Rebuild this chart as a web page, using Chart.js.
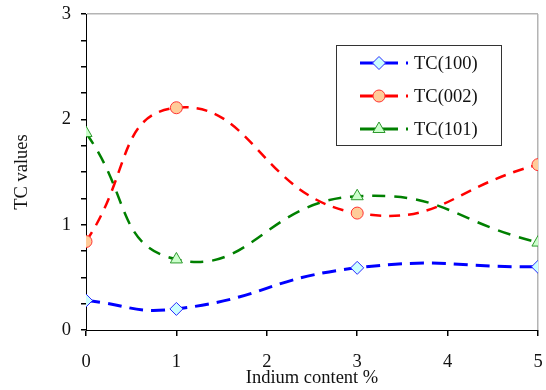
<!DOCTYPE html>
<html>
<head>
<meta charset="utf-8">
<script src="https://cdn.jsdelivr.net/npm/chart.js@4"></script>
<style>
  html, body { margin: 0; padding: 0; background: #fff; }
  canvas { display: block; }
</style>
</head>
<body>
<canvas id="tc-chart" width="546" height="390"></canvas>
<script>
// Indium content (%) on the x axis
const indium = [0, 1, 3, 5];

// Texture coefficient values
const tc100 = [0.28, 0.20, 0.59, 0.60];
const tc002 = [0.84, 2.11, 1.11, 1.57];
const tc101 = [1.87, 0.67, 1.27, 0.83];

const seriesNames = ['TC(100)', 'TC(002)', 'TC(101)'];

// dash patterns per series
const dash100 = [14, 8];
const dash002 = [11, 8];
const dash101 = [13, 9];

const SERIF = "'Liberation Serif', 'Times New Roman', serif";

function toPoints(values) {
    return values.map((v, i) => ({ x: indium[i], y: v }));
}

// Draws one marker shape for the legend
function drawMarker(ctx, style, x, y, r) {
    ctx.beginPath();
    if (style === 'rectRot') {
        ctx.moveTo(x, y - r);
        ctx.lineTo(x + r, y);
        ctx.lineTo(x, y + r);
        ctx.lineTo(x - r, y);
        ctx.closePath();
    } else if (style === 'triangle') {
        for (let k = 0; k < 3; k++) {
            const a = k * 2 * Math.PI / 3;
            const px = x + Math.sin(a) * r;
            const py = y - Math.cos(a) * r;
            if (k === 0) ctx.moveTo(px, py); else ctx.lineTo(px, py);
        }
        ctx.closePath();
    } else {
        ctx.arc(x, y, r, 0, Math.PI * 2);
    }
    ctx.fill();
    ctx.stroke();
}

// Boxed legend inside the plot, like the original figure
const legendBox = {
    id: 'legendBox',
    afterDatasetsDraw(chart) {
        const ctx = chart.ctx;
        ctx.save();
        ctx.fillStyle = '#fff';
        ctx.fillRect(336.5, 45.5, 165, 100);
        ctx.strokeStyle = '#333';
        ctx.lineWidth = 1;
        ctx.strokeRect(336.5, 45.5, 165, 100);

        chart.data.datasets.forEach((ds, i) => {
            const y = 63 + i * 33;
            ctx.strokeStyle = ds.borderColor;
            ctx.lineWidth = 3;
            ctx.beginPath();
            ctx.moveTo(360, y);
            ctx.lineTo(398, y);
            ctx.moveTo(406, y);
            ctx.lineTo(408, y);
            ctx.stroke();

            ctx.fillStyle = ds.pointBackgroundColor;
            ctx.strokeStyle = ds.pointBorderColor;
            ctx.lineWidth = 1;
            drawMarker(ctx, ds.pointStyle, 379, y, ds.pointRadius);

            ctx.fillStyle = '#111';
            ctx.font = '18.5px ' + SERIF;
            ctx.textBaseline = 'middle';
            ctx.textAlign = 'left';
            ctx.fillText(ds.label, 414, y + 1);
        });
        ctx.restore();
    }
};

function makeSeries(label, values, color, width, dash, style, radius, fillColor, edgeColor) {
    return {
        label: label,
        data: toPoints(values),
        borderColor: color,
        borderWidth: width,
        borderDash: dash,
        borderDashOffset: 0,
        pointStyle: style,
        pointRadius: radius,
        pointBackgroundColor: fillColor,
        pointBorderColor: edgeColor,
        pointBorderWidth: 1,
        tension: 0.5,
        fill: false
    };
}

const ctx = document.getElementById('tc-chart').getContext('2d');

new Chart(ctx, {
    type: 'line',
    data: {
        datasets: [
            makeSeries(seriesNames[0], tc100, '#0000ff', 3, dash100, 'rectRot', 6.5, '#ccffff', '#2a2aff'),
            makeSeries(seriesNames[1], tc002, '#ff0000', 2.5, dash002, 'circle', 6, '#ffcc99', '#ff3333'),
            makeSeries(seriesNames[2], tc101, '#008000', 2.5, dash101, 'triangle', 7, '#ccffcc', '#2e9a2e')
        ]
    },
    options: {
        responsive: false,
        animation: false,
        layout: {
            padding: { top: 14, right: 8, bottom: 0, left: 0 }
        },
        plugins: {
            legend: { display: false },
            tooltip: { enabled: false }
        },
        scales: {
            x: {
                type: 'linear',
                min: 0,
                max: 5,
                afterFit(scale) {
                    scale.height = 60;
                    scale.paddingLeft = 0;
                    scale.paddingRight = 0;
                },
                title: {
                    display: true,
                    text: 'Indium content %',
                    color: '#111',
                    font: { family: SERIF, size: 18.5 },
                    padding: { top: 0, bottom: 1 }
                },
                border: { display: true, color: '#000', width: 1 },
                grid: {
                    drawOnChartArea: true,
                    drawTicks: true,
                    tickLength: 6,
                    tickColor: '#000',
                    color: (c) => (c.tick && c.tick.value === 5 ? '#b4b4b4' : 'rgba(0,0,0,0)'),
                    lineWidth: 1.5
                },
                ticks: {
                    stepSize: 1,
                    autoSkip: false,
                    padding: 15,
                    color: '#111',
                    font: { family: SERIF, size: 18.5 }
                }
            },
            y: {
                min: 0,
                max: 3,
                afterFit(scale) {
                    scale.width = 86;
                    scale.paddingTop = 0;
                    scale.paddingBottom = 0;
                },
                title: {
                    display: true,
                    text: 'TC values',
                    color: '#111',
                    font: { family: SERIF, size: 18.5 },
                    padding: { top: 11, bottom: 0 }
                },
                border: { display: true, color: '#000', width: 1 },
                grid: {
                    drawOnChartArea: true,
                    drawTicks: true,
                    tickLength: 5,
                    tickColor: '#000',
                    color: (c) => (c.tick && c.tick.value === 3 ? '#b4b4b4' : 'rgba(0,0,0,0)'),
                    lineWidth: 1.5
                },
                ticks: {
                    stepSize: 0.25,
                    autoSkip: false,
                    padding: 10,
                    color: '#111',
                    font: { family: SERIF, size: 18.5 },
                    callback: (v) => (Number.isInteger(v) ? String(v) : '')
                }
            }
        }
    },
    plugins: [legendBox]
});
</script>
</body>
</html>
